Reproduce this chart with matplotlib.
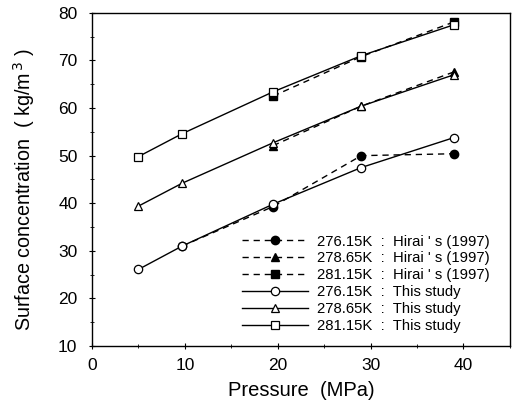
import matplotlib
matplotlib.use("Agg")
from matplotlib import pyplot as plt
from matplotlib.ticker import MultipleLocator

plt.rcParams["font.family"] = ["Liberation Sans", "DejaVu Sans"]

# Hirai's (1997) data, pressure in MPa
hirai_p = [9.7, 19.5, 29.0, 39.0]
hirai_27615 = [31.0, 39.3, 50.0, 50.4]
hirai_p2 = [19.5, 29.0, 39.0]
hirai_27865 = [52.1, 60.4, 67.6]
hirai_28115 = [62.5, 70.8, 78.1]

# this study
study_p = [5.0, 9.7, 19.5, 29.0, 39.0]
study_27615 = [26.1, 31.0, 39.8, 47.5, 53.8]
study_27865 = [39.4, 44.2, 52.7, 60.4, 67.0]
study_28115 = [49.8, 54.6, 63.4, 71.0, 77.5]

labels_hirai = ["276.15K  :  Hirai ' s (1997)", "278.65K  :  Hirai ' s (1997)",
                "281.15K  :  Hirai ' s (1997)"]
labels_study = ["276.15K  :  This study", "278.65K  :  This study",
                "281.15K  :  This study"]

fig = plt.figure(figsize=(5.17, 4.01), dpi=100)
ax = fig.add_axes([0.178, 0.137, 0.808, 0.831])

dash = (0, (4.5, 3.5))
kw_h = dict(color="black", linestyle=dash, linewidth=1.0, markersize=6)
kw_s = dict(color="black", linestyle="-", linewidth=1.0, markersize=6,
            markerfacecolor="white", markeredgewidth=0.9)

ax.plot(hirai_p, hirai_27615, marker="o", label=labels_hirai[0], **kw_h)
ax.plot(hirai_p2, hirai_27865, marker="^", label=labels_hirai[1], **kw_h)
ax.plot(hirai_p2, hirai_28115, marker="s", label=labels_hirai[2], **kw_h)
ax.plot(study_p, study_27615, marker="o", label=labels_study[0], **kw_s)
ax.plot(study_p, study_27865, marker="^", label=labels_study[1], **kw_s)
ax.plot(study_p, study_28115, marker="s", label=labels_study[2], **kw_s)

ax.set_xlim(0, 45)
ax.set_ylim(10, 80)
ax.set_xticks([0, 10, 20, 30, 40])
ax.set_yticks(range(10, 81, 10))
ax.yaxis.set_minor_locator(MultipleLocator(5))
ax.xaxis.set_minor_locator(MultipleLocator(5))
ax.tick_params(which="both", direction="inout", labelsize=12.5)
ax.tick_params(which="major", length=5)
ax.tick_params(which="minor", length=3)
ax.tick_params(axis="y", pad=8)
ax.tick_params(axis="x", pad=6)
for s in ax.spines.values():
    s.set_linewidth(1.0)

ax.set_xlabel("Pressure  (MPa)", fontsize=14.5, labelpad=6)
ax.set_ylabel("Surface concentration  ( kg/m$^{\\,3}$ )", fontsize=14.2, labelpad=15)
ax.yaxis.label.set_y(0.47)

leg = ax.legend(loc="lower left", fontsize=10.7, handlelength=4.4,
                handletextpad=0.6, labelspacing=0.19, borderaxespad=0,
                borderpad=0, frameon=False,
                bbox_to_anchor=(0.36, 0.04))

fig.savefig("out.png", dpi=100)
